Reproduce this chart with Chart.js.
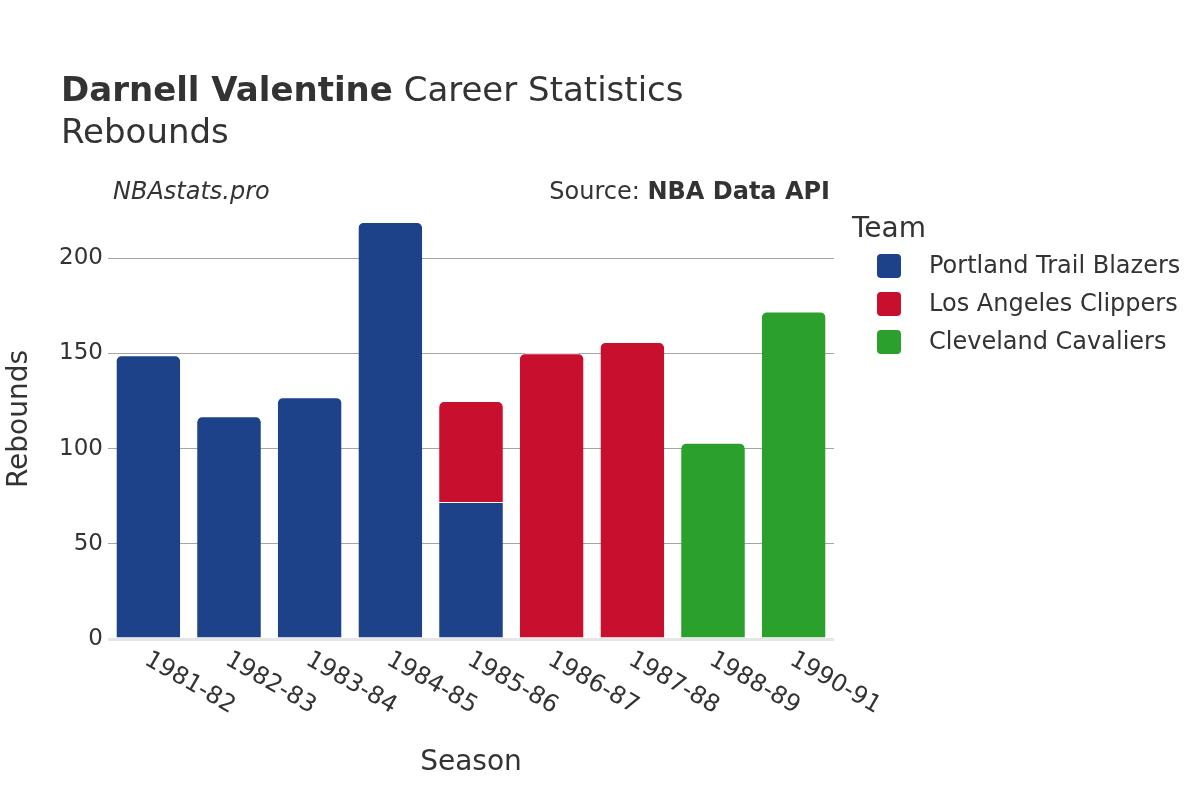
<!DOCTYPE html>
<html>
<head>
<meta charset="utf-8">
<script src="https://cdn.jsdelivr.net/npm/chart.js@4"></script>
<style>
    html, body { margin: 0; padding: 0; background: #ffffff; }
    #wrap { width: 1200px; height: 800px; }
</style>
</head>
<body>
<div id="wrap"><canvas id="chart" width="1200" height="800"></canvas></div>
<script>
// Seasons and rebounds per team
const seasons = ['1981-82', '1982-83', '1983-84', '1984-85', '1985-86', '1986-87', '1987-88', '1988-89', '1990-91'];
const teams = ['Portland Trail Blazers', 'Los Angeles Clippers', 'Cleveland Cavaliers'];
const teamColors = ['#1d428a', '#c8102e', '#2ca02c'];
const portland = [149, 117, 127, 219, 72, null, null, null, null];
const clippers = [null, null, null, null, 53, 150, 156, null, null];
const cavaliers = [null, null, null, null, null, null, null, 103, 172];
const yTicks = [0, 50, 100, 150, 200];

const FONT = '"DejaVu Sans", sans-serif';
const TEXT = '#333333';

// Titles, rotated season labels and legend drawn on top of the chart
const decorations = {
    id: 'decorations',
    afterDraw: function (chart) {
        const ctx = chart.ctx;
        const area = chart.chartArea;
        const xScale = chart.scales.x;
        ctx.save();
        ctx.fillStyle = TEXT;
        ctx.textBaseline = 'alphabetic';

        // main title
        ctx.textAlign = 'left';
        ctx.font = 'bold 34px ' + FONT;
        const bold = 'Darnell Valentine';
        ctx.fillText(bold, 61, 101);
        const w = ctx.measureText(bold).width;
        ctx.font = '34px ' + FONT;
        ctx.fillText(' Career Statistics', 61 + w, 101);
        ctx.fillText('Rebounds', 61, 143);

        // watermark and source
        ctx.font = 'italic 24px ' + FONT;
        ctx.fillText('NBAstats.pro', 113, 199);
        ctx.textAlign = 'right';
        ctx.font = 'bold 24px ' + FONT;
        const src = 'NBA Data API';
        ctx.fillText(src, 830, 199);
        const sw = ctx.measureText(src).width;
        ctx.font = '24px ' + FONT;
        ctx.fillText('Source: ', 830 - sw, 199);

        // axis titles
        ctx.textAlign = 'center';
        ctx.font = '28px ' + FONT;
        ctx.fillText('Season', (area.left + area.right) / 2, 770);
        ctx.save();
        ctx.translate(27, 419);
        ctx.rotate(-Math.PI / 2);
        ctx.fillText('Rebounds', 0, 0);
        ctx.restore();

        // rotated season labels
        ctx.font = '24px ' + FONT;
        ctx.textAlign = 'left';
        ctx.textBaseline = 'middle';
        seasons.forEach(function (s, i) {
            const x = xScale.getPixelForValue(i);
            ctx.save();
            ctx.translate(x - 2, area.bottom + 19);
            ctx.rotate(Math.PI / 6);
            ctx.fillText(s, 0, 0);
            ctx.restore();
        });

        // legend
        ctx.textBaseline = 'alphabetic';
        ctx.font = '28px ' + FONT;
        ctx.fillText('Team', 852, 237);
        ctx.font = '24px ' + FONT;
        ctx.textBaseline = 'middle';
        teams.forEach(function (t, i) {
            const y = 266 + i * 38;
            ctx.fillStyle = teamColors[i];
            ctx.beginPath();
            ctx.roundRect(877, y - 12, 24, 24, 4);
            ctx.fill();
            ctx.fillStyle = TEXT;
            ctx.fillText(t, 929, y + 1);
        });
        ctx.restore();
    }
};

const ctx = document.getElementById('chart').getContext('2d');
new Chart(ctx, {
    type: 'bar',
    data: {
        labels: seasons,
        datasets: [portland, clippers, cavaliers].map(function (vals, i) {
            return {
                label: teams[i],
                data: vals,
                backgroundColor: teamColors[i],
                borderColor: '#ffffff',
                borderWidth: {top: 1, left: 0, right: 0, bottom: 0},
                borderRadius: 6,
                borderSkipped: 'start',
                barPercentage: 0.79,
                categoryPercentage: 1
            };
        })
    },
    options: {
        responsive: false,
        animation: false,
        layout: {
            padding: {left: 0, top: 201, right: 366, bottom: 0}
        },
        plugins: {
            legend: {display: false},
            tooltip: {enabled: false}
        },
        scales: {
            x: {
                stacked: true,
                grid: {display: false},
                border: {display: false},
                ticks: {display: false},
                afterFit: function (scale) { scale.height = 161; }
            },
            y: {
                stacked: true,
                min: 0,
                max: 230,
                afterFit: function (scale) { scale.width = 108; },
                afterBuildTicks: function (scale) {
                    scale.ticks = yTicks.map(function (v) { return {value: v}; });
                },
                border: {display: false},
                grid: {
                    drawTicks: false,
                    color: function (c) { return c.tick && c.tick.value === 0 ? '#e6e6e6' : '#a6a6a6'; },
                    lineWidth: function (c) { return c.tick && c.tick.value === 0 ? 3 : 1; }
                },
                ticks: {
                    padding: 5,
                    color: TEXT,
                    font: {family: FONT, size: 23}
                }
            }
        }
    },
    plugins: [decorations]
});
</script>
</body>
</html>
